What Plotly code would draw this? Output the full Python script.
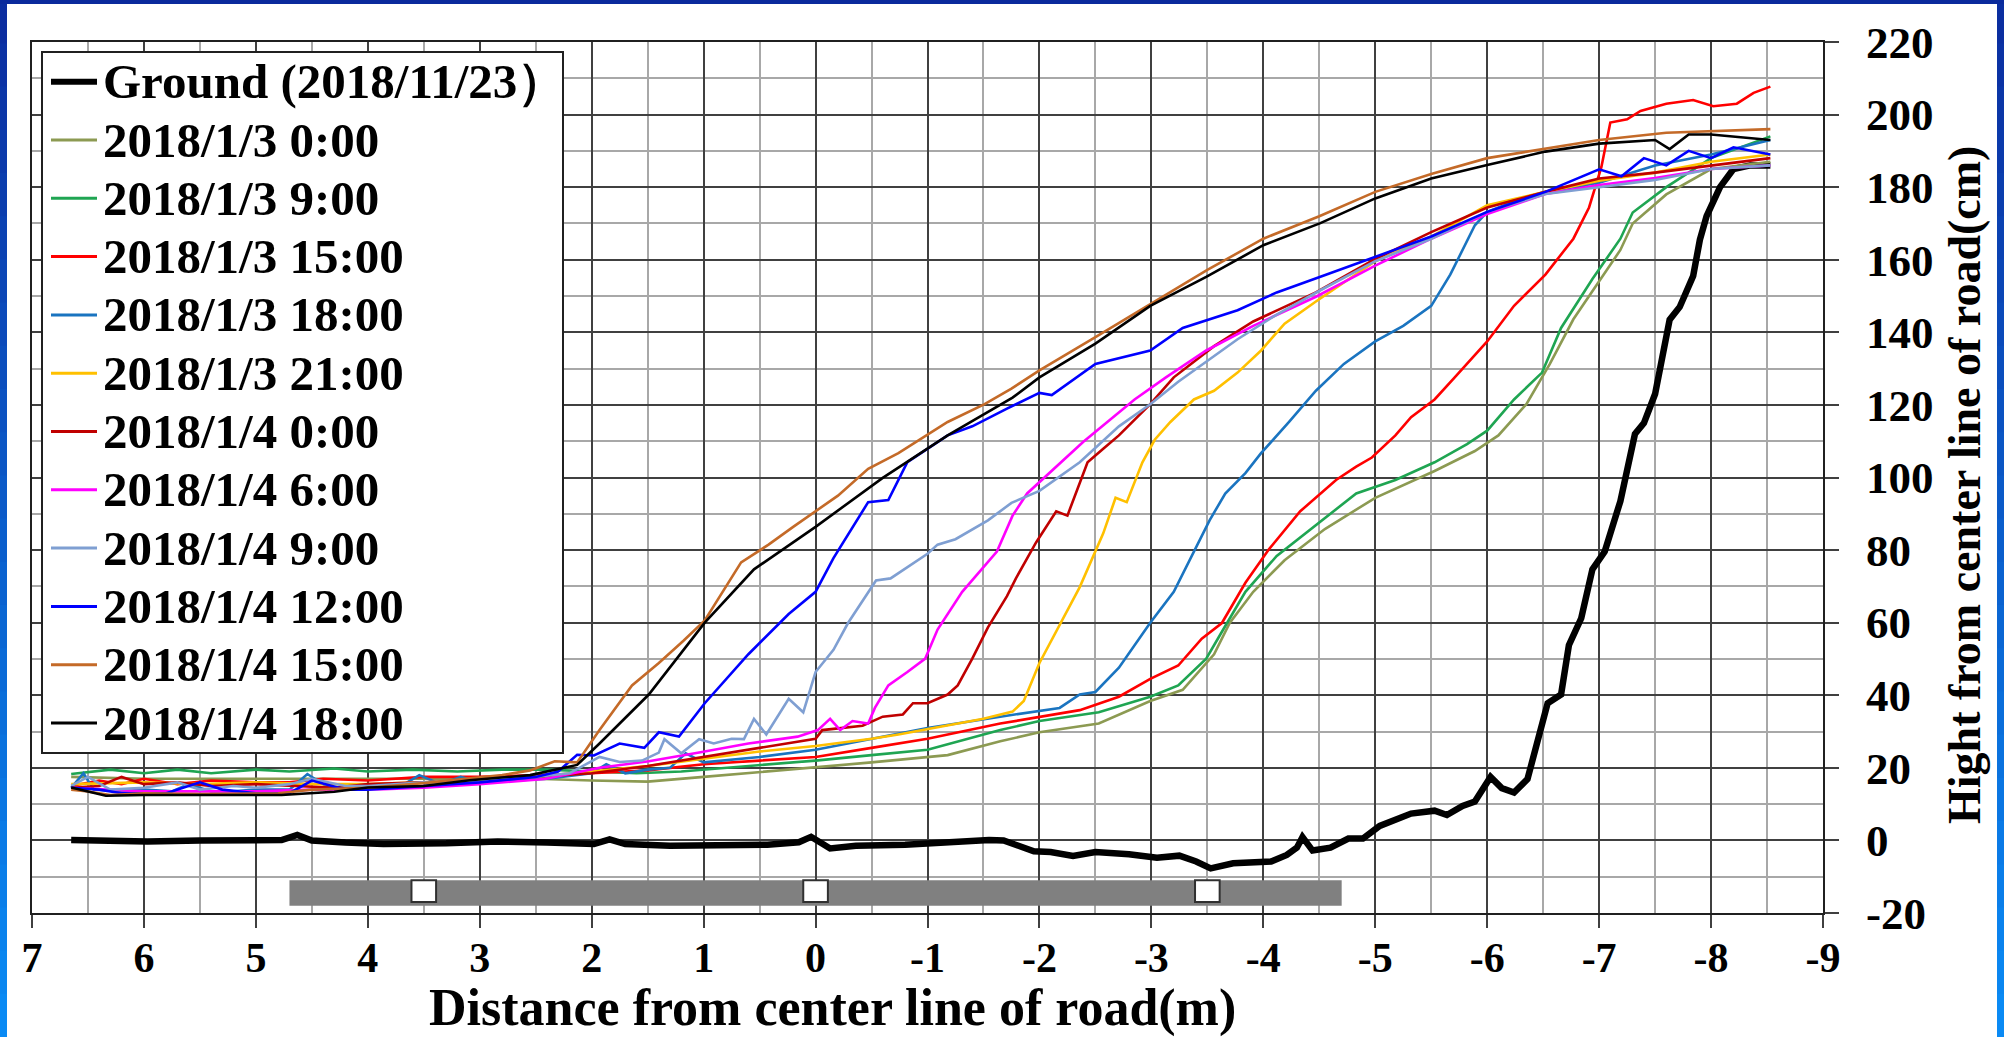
import plotly.graph_objects as go

# ---------------- data ----------------
series_names = [
    "Ground (2018/11/23）", "2018/1/3 0:00", "2018/1/3 9:00", "2018/1/3 15:00",
    "2018/1/3 18:00", "2018/1/3 21:00", "2018/1/4 0:00", "2018/1/4 6:00",
    "2018/1/4 9:00", "2018/1/4 12:00", "2018/1/4 15:00", "2018/1/4 18:00",
]
series_colors = [
    "#000000", "#8c9a52", "#1fa552", "#ff0000", "#1a74c0", "#ffc000",
    "#c00000", "#ff00ff", "#7f9fd2", "#0000ff", "#c46a28", "#000000",
]

ground_x = [6.65, 6.3, 5.97, 5.5, 4.99, 4.77, 4.63, 4.5, 4.2, 3.86, 3.3, 2.84, 2.4, 1.98, 1.84, 1.7, 1.3, 0.9,
            0.43, 0.15, 0.04, -0.13, -0.36, -0.8, -1.27, -1.55, -1.68, -1.8, -1.95, -2.1, -2.3, -2.5, -2.8, -3.05,
            -3.25, -3.4, -3.53, -3.73, -4.07, -4.21, -4.3, -4.35, -4.44, -4.6, -4.76, -4.89, -5.04, -5.32, -5.53,
            -5.64, -5.78, -5.89, -5.96, -6.03, -6.13, -6.24, -6.36, -6.45, -6.54, -6.66, -6.73, -6.84, -6.94,
            -7.05, -7.19, -7.32, -7.4, -7.5, -7.57, -7.63, -7.72, -7.84, -7.9, -7.96, -8.08, -8.2, -8.35, -8.53]
ground_y = [0.1, -0.3, -0.3, 0.0, 0.1, 0.1, 1.5, 0.0, -0.6, -1.0, -0.8, -0.3, -0.6, -1.0, 0.3, -1.0, -1.5, -1.2,
            -1.2, -0.5, 1.0, -2.2, -1.5, -1.2, -0.3, 0.1, 0.0, -1.5, -3.0, -3.2, -4.3, -3.2, -3.8, -4.8,
            -4.2, -5.8, -7.7, -6.3, -5.8, -4.0, -2.0, 0.9, -2.8, -2.0, 0.5, 0.5, 4.0, 7.4, 8.2,
            7.0, 9.5, 10.7, 14.0, 17.5, 14.4, 13.2, 16.9, 26.7, 37.8, 40.2, 53.8, 61.2, 74.7,
            79.6, 93.5, 112.0, 115.0, 123.0, 135.0, 143.5, 147.0, 155.5, 165.5, 172.0, 180.0, 185.0, 186.0, 186.0]

s0300_x = [6.65, 6.0, 5.0, 4.0, 3.0, 2.5, 2.0, 1.5, 1.0, 0.5, 0.0, -0.5, -1.18, -1.65, -2.0, -2.53, -2.99, -3.28,
           -3.56, -3.7, -3.91, -4.19, -4.55, -5.0, -5.53, -5.89, -6.1, -6.35, -6.56, -6.77, -7.19, -7.3, -7.6,
           -8.0, -8.53]
s0300_y = [17.5, 17.0, 17.0, 17.0, 17.0, 17.0, 16.5, 16.2, 17.5, 18.8, 20.0, 21.5, 23.5, 27.3, 29.8, 32.2, 38.4, 41.5,
           51.3, 59.9, 68.5, 77.2, 85.8, 94.4, 101.8, 107.3, 111.6, 120.2, 131.3, 143.6, 162.7, 170.0, 178.0,
           185.0, 187.0]

s0309_x = [6.65, 6.3, 6.0, 5.7, 5.4, 5.0, 4.7, 4.3, 4.0, 3.6, 3.2, 2.8, 2.4, 2.0, 1.6, 1.2, 0.8, 0.4, 0.0, -0.5,
           -1.0, -1.65, -2.0, -2.53, -2.99, -3.24, -3.49, -3.63, -3.84, -4.12, -4.47, -4.83, -5.18, -5.53, -5.82,
           -6.0, -6.24, -6.49, -6.66, -6.94, -7.19, -7.3, -7.6, -8.0, -8.53]
s0309_y = [18.3, 19.5, 18.5, 19.5, 18.5, 19.5, 19.0, 19.8, 19.0, 19.5, 19.0, 19.5, 19.5, 19.0, 18.5, 19.0, 20.0, 21.0,
           22.0, 23.5, 25.0, 30.4, 32.9, 35.3, 39.6, 42.7, 50.1, 57.5, 68.5, 78.4, 87.0, 95.6, 99.3, 104.2, 109.2,
           112.9, 121.5, 128.9, 141.2, 154.7, 165.8, 173.0, 180.0, 188.0, 194.0]

s0315_x = [6.65, 6.4, 6.2, 6.0, 5.7, 5.4, 5.0, 4.7, 4.4, 4.0, 3.5, 3.0, 2.5, 2.0, 1.5, 1.0, 0.5, 0.0, -0.5, -1.0,
           -1.65, -2.36, -2.71, -2.99, -3.24, -3.45, -3.63, -3.84, -4.05, -4.33, -4.65, -4.83, -4.97, -5.18, -5.32,
           -5.53, -5.71, -6.0, -6.24, -6.52, -6.77, -6.91, -7.02, -7.1, -7.25, -7.37, -7.6, -7.84, -8.02, -8.23,
           -8.38, -8.53]
s0315_y = [15.0, 16.5, 15.5, 17.0, 15.5, 16.5, 16.0, 16.0, 17.0, 16.5, 17.5, 17.5, 18.0, 18.5, 19.3, 21.0, 22.0, 23.0,
           25.5, 28.0, 32.2, 35.9, 39.6, 44.5, 48.2, 55.6, 59.9, 71.0, 80.2, 90.7, 99.3, 103.0, 105.5, 111.6, 116.6,
           121.5, 127.6, 137.5, 147.3, 155.9, 165.8, 174.4, 185.5, 197.8, 198.7, 201.0, 203.0, 204.0, 202.3, 203.0,
           206.0, 207.7]

s0318_x = [6.65, 6.54, 6.45, 6.2, 6.0, 5.75, 5.6, 5.4, 5.2, 5.0, 4.7, 4.54, 4.35, 4.0, 3.7, 3.54, 3.35, 3.17, 3.0,
           2.7, 2.4, 2.0, 1.87, 1.7, 1.5, 1.3, 1.16, 1.0, 0.5, 0.0, -0.5, -1.0, -1.65, -2.18, -2.36, -2.5, -2.71,
           -2.99, -3.2, -3.42, -3.52, -3.66, -3.84, -3.98, -4.23, -4.47, -4.72, -5.0, -5.25, -5.5, -5.67, -5.89,
           -6.0, -6.31, -6.52, -7.0, -7.5, -8.0, -8.53]
s0318_y = [14.5, 18.5, 14.0, 13.5, 14.0, 13.5, 15.5, 13.5, 13.5, 14.0, 14.0, 18.3, 14.5, 14.5, 15.0, 18.0, 15.5, 17.5,
           16.0, 16.5, 17.0, 18.5, 21.0, 18.5, 19.5, 20.0, 24.0, 21.5, 23.0, 25.0, 28.0, 31.0, 34.1, 36.5, 40.2, 40.9,
           47.6, 60.0, 68.5, 82.1, 88.2, 95.6, 101.2, 106.7, 115.3, 123.9, 131.3, 137.5, 141.8, 147.3, 155.9, 169.5,
           173.2, 176.9, 178.7, 181.2, 186.0, 189.0, 193.0]

s0321_x = [6.65, 6.0, 5.5, 5.0, 4.5, 4.0, 3.5, 3.0, 2.5, 2.0, 1.5, 1.0, 0.5, 0.0, -0.5, -0.74, -1.18, -1.5, -1.76,
           -1.86, -2.0, -2.36, -2.57, -2.68, -2.78, -2.92, -3.03, -3.17, -3.38, -3.56, -3.77, -3.98, -4.19, -4.47,
           -5.0, -5.5, -6.0, -6.52, -7.0, -7.5, -8.0, -8.53]
s0321_y = [15.5, 16.0, 15.5, 16.0, 15.5, 15.5, 16.0, 16.5, 17.5, 19.0, 20.5, 22.5, 24.5, 26.0, 28.0, 29.2, 31.6, 33.5,
           35.5, 38.4, 48.9, 69.8, 84.6, 94.4, 93.2, 104.2, 110.4, 115.3, 121.5, 123.9, 128.9, 135.0, 142.4, 148.5,
           159.6, 166.4, 175.0, 178.7, 181.8, 184.0, 187.0, 189.0]

s0400_x = [6.65, 6.4, 6.2, 6.0, 5.7, 5.4, 5.0, 4.6, 4.3, 4.0, 3.5, 3.0, 2.5, 2.0, 1.5, 1.0, 0.5, 0.0, -0.06, -0.42,
           -0.6, -0.78, -0.87, -1.0, -1.18, -1.27, -1.4, -1.54, -1.71, -1.79, -1.97, -2.15, -2.25, -2.43, -2.57,
           -2.71, -2.99, -3.2, -3.56, -3.91, -4.47, -5.0, -5.5, -6.0, -6.52, -7.0, -7.5, -8.0, -8.53]
s0400_y = [14.5, 15.0, 17.5, 15.5, 16.0, 15.0, 15.5, 15.0, 14.5, 15.5, 16.0, 16.5, 17.5, 18.5, 20.5, 23.0, 25.5, 28.0,
           30.4, 31.6, 34.1, 34.7, 37.8, 37.8, 40.2, 42.7, 50.1, 58.7, 67.3, 72.2, 82.1, 90.7, 89.5, 104.2, 107.9,
           111.6, 120.2, 127.6, 136.2, 143.0, 151.0, 160.2, 167.6, 174.4, 178.7, 182.4, 184.0, 186.0, 188.0]

s0406_x = [6.65, 6.0, 5.0, 4.5, 3.86, 3.5, 3.0, 2.42, 1.93, 1.49, 1.04, 0.6, 0.16, -0.02, -0.13, -0.22, -0.33, -0.47,
           -0.53, -0.65, -0.82, -0.98, -1.09, -1.31, -1.62, -1.76, -1.89, -2.15, -2.39, -2.85, -3.13, -3.49, -3.91,
           -4.47, -5.0, -5.5, -6.0, -6.52, -7.0, -7.5, -8.0, -8.53]
s0406_y = [14.5, 13.5, 13.5, 14.0, 14.1, 14.5, 15.5, 16.9, 20.0, 21.8, 24.2, 26.7, 28.6, 30.4, 33.5, 30.4, 32.9, 32.2,
           36.5, 42.7, 46.4, 50.1, 58.1, 68.5, 79.6, 89.5, 95.6, 103.0, 109.8, 121.5, 127.6, 135.0, 141.8,
           149.8, 158.4, 165.8, 172.6, 178.1, 180.6, 182.5, 185.0, 186.0]

s0409_x = [6.65, 6.5, 6.3, 6.0, 5.7, 5.5, 5.2, 5.0, 4.7, 4.5, 4.2, 4.0, 3.5, 3.0, 2.5, 2.2, 1.93, 1.75, 1.55, 1.4,
           1.35, 1.2, 1.04, 0.91, 0.75, 0.64, 0.55, 0.44, 0.24, 0.11, 0.0, -0.16, -0.29, -0.54, -0.67, -1.0, -1.09,
           -1.25, -1.54, -1.75, -2.0, -2.36, -2.71, -2.99, -3.24, -3.77, -4.12, -4.51, -5.0, -5.5, -6.0, -6.52,
           -7.0, -7.5, -8.0, -8.53]
s0409_y = [15.0, 17.5, 14.0, 14.5, 16.0, 14.0, 15.0, 14.5, 15.5, 17.0, 15.0, 15.0, 16.0, 16.5, 17.5, 18.5, 23.0, 21.6,
           22.0, 24.2, 27.9, 24.0, 27.9, 26.7, 28.0, 27.9, 33.5, 29.2, 39.0, 35.3, 46.4, 52.5, 59.9, 71.6, 72.2, 79.0,
           81.5, 83.0, 88.2, 93.0, 96.3, 104.2, 114.1, 120.2, 126.4, 138.1, 144.9, 151.6, 159.6, 165.8, 173.2,
           178.1, 180.0, 182.0, 185.0, 186.0]

s0412_x = [6.65, 6.4, 6.2, 5.8, 5.5, 5.3, 5.0, 4.7, 4.5, 4.2, 4.0, 3.5, 3.0, 2.5, 2.3, 2.13, 1.98, 1.75, 1.53, 1.4,
           1.22, 0.99, 0.6, 0.24, 0.0, -0.16, -0.47, -0.65, -0.82, -1.18, -1.4, -1.71, -2.0, -2.11, -2.5, -2.99,
           -3.28, -3.77, -4.12, -4.51, -5.0, -5.5, -6.0, -6.52, -7.0, -7.2, -7.4, -7.6, -7.8, -8.0, -8.2, -8.53]
s0412_y = [14.5, 14.0, 13.0, 13.0, 16.0, 14.0, 13.0, 13.0, 16.5, 14.0, 14.0, 15.0, 16.0, 17.5, 19.0, 23.6, 23.4, 26.7,
           25.5, 29.8, 28.6, 37.8, 51.3, 62.4, 68.5, 77.8, 93.2, 93.8, 104.2, 111.6, 114.1, 119.0, 123.3, 122.7,
           131.3, 135.0, 141.2, 146.1, 151.0, 155.3, 160.9, 166.4, 173.2, 178.7, 184.9, 183.0, 188.0, 186.0, 190.0,
           188.0, 191.0, 189.0]

s0415_x = [6.65, 6.5, 6.3, 6.0, 5.5, 5.0, 4.8, 4.5, 4.0, 3.5, 3.09, 2.8, 2.55, 2.33, 2.13, 1.93, 1.64, 1.4, 1.18,
           0.99, 0.665, 0.42, 0.2, 0.0, -0.2, -0.47, -0.74, -1.18, -1.51, -1.75, -2.0, -2.5, -3.0, -3.5, -4.0,
           -4.5, -5.0, -5.5, -6.0, -6.5, -7.0, -7.6, -8.0, -8.53]
s0415_y = [14.0, 13.5, 12.5, 13.0, 12.8, 13.0, 13.0, 14.0, 14.5, 15.8, 17.2, 18.0, 19.3, 21.8, 21.5, 30.4, 42.7, 48.9,
           55.0, 60.6, 76.6, 81.5, 86.4, 90.7, 95.0, 102.4, 106.7, 115.3, 120.2, 124.5, 129.5, 138.7, 148.0, 157.2,
           165.8, 172.0, 178.7, 183.6, 188.0, 190.4, 193.0, 195.0, 195.5, 196.0]

s0418_x = [6.65, 6.34, 6.0, 5.5, 5.0, 4.77, 4.3, 4.0, 3.5, 3.09, 2.55, 2.13, 1.93, 1.49, 0.99, 0.55, 0.0, -0.6,
           -1.18, -1.76, -2.0, -2.5, -2.99, -3.49, -4.0, -4.51, -5.0, -5.5, -6.0, -6.52, -7.0, -7.5, -7.63, -7.8,
           -8.0, -8.53]
s0418_y = [14.6, 12.3, 12.5, 12.5, 12.5, 12.5, 13.4, 14.6, 15.0, 16.6, 18.0, 20.8, 26.7, 40.2, 60.0, 74.7, 86.4, 99.9,
           111.6, 122.0, 127.6, 136.9, 147.3, 155.3, 164.0, 170.1, 176.9, 182.4, 186.1, 189.8, 192.0, 193.0, 190.5,
           194.5, 194.5, 193.0]

road_bar_x = [4.7, -4.7]
road_bar_y = [-18.0, -11.0]
marker_x = [3.5, 0.0, -3.5]
marker_y = [-17.0, -11.0]
marker_half_width = 0.11

x_tick_vals = [7, 6, 5, 4, 3, 2, 1, 0, -1, -2, -3, -4, -5, -6, -7, -8, -9]
x_tick_text = ["7", "6", "5", "4", "3", "2", "1", "0", "-1", "-2", "-3", "-4", "-5", "-6", "-7", "-8", "-9"]
y_tick_vals = [-20, 0, 20, 40, 60, 80, 100, 120, 140, 160, 180, 200, 220]
y_tick_text = ["-20", "0", "20", "40", "60", "80", "100", "120", "140", "160", "180", "200", "220"]

x_title = "Distance from center line of road(m)"
y_title = "Hight from center line of road(cm)"

all_x = [ground_x, s0300_x, s0309_x, s0315_x, s0318_x, s0321_x, s0400_x, s0406_x, s0409_x, s0412_x, s0415_x, s0418_x]
all_y = [ground_y, s0300_y, s0309_y, s0315_y, s0318_y, s0321_y, s0400_y, s0406_y, s0409_y, s0412_y, s0415_y, s0418_y]

# ---------------- layout geometry (pixels) ----------------
W, H = 2004, 1037
PL, PR, PT, PB = 32, 1823, 42, 913
FONT = "Liberation Serif"


def px(xp):
    return (xp - PL) / (PR - PL)


def py(yp):
    return (PB - yp) / (PB - PT)


fig = go.Figure()

for i, (xs, ys) in enumerate(zip(all_x, all_y)):
    fig.add_trace(go.Scatter(
        x=xs, y=ys, mode="lines", name=series_names[i],
        line=dict(color=series_colors[i], width=6.5 if i == 0 else 2.6),
        showlegend=False,
    ))

shapes = []
# road bar and markers (data coordinates)
shapes.append(dict(type="rect", xref="x", yref="y", x0=road_bar_x[0], x1=road_bar_x[1],
                   y0=road_bar_y[0], y1=road_bar_y[1], fillcolor="#808080", line=dict(width=0),
                   layer="above"))
for mx in marker_x:
    shapes.append(dict(type="rect", xref="x", yref="y", x0=mx + marker_half_width, x1=mx - marker_half_width,
                       y0=marker_y[0], y1=marker_y[1], fillcolor="white",
                       line=dict(color="#303030", width=2), layer="above"))

# legend box
shapes.append(dict(type="rect", xref="paper", yref="paper", x0=px(42), x1=px(563), y0=py(753), y1=py(52),
                   fillcolor="white", line=dict(color="#202020", width=2), layer="above"))
annotations = []
for i, name in enumerate(series_names):
    yrow = 81.7 + i * 58.3
    shapes.append(dict(type="line", xref="paper", yref="paper", x0=px(51), x1=px(97), y0=py(yrow), y1=py(yrow),
                       line=dict(color=series_colors[i], width=6 if i == 0 else 3), layer="above"))
    annotations.append(dict(xref="paper", yref="paper", x=px(101), y=py(yrow), xanchor="left", yanchor="middle",
                            text=name, showarrow=False,
                            font=dict(family=FONT, size=49, color="black", weight="bold")))

# axis titles
annotations.append(dict(xref="paper", yref="paper", x=px(832), y=py(1008), xanchor="center", yanchor="middle",
                        text=x_title, showarrow=False,
                        font=dict(family=FONT, size=52, color="black", weight="bold")))
annotations.append(dict(xref="paper", yref="paper", x=px(1964), y=py(485), xanchor="center", yanchor="middle",
                        text=y_title, textangle=-90, showarrow=False,
                        font=dict(family=FONT, size=46, color="black", weight="bold")))


# blue frame
def lerp(c1, c2, t):
    a = [int(c1[k:k + 2], 16) for k in (1, 3, 5)]
    b = [int(c2[k:k + 2], 16) for k in (1, 3, 5)]
    return "#%02x%02x%02x" % tuple(round(a[j] + (b[j] - a[j]) * t) for j in range(3))


top_col, bot_col = "#0b2c9e", "#0a8cf6"
nseg = 24
for k in range(nseg):
    y0p = H * k / nseg
    y1p = H * (k + 1) / nseg + 1
    col = lerp(top_col, bot_col, (k + 0.5) / nseg)
    for x0p, x1p in ((0, 7), (1997, W + 2)):
        shapes.append(dict(type="rect", xref="paper", yref="paper", x0=px(x0p), x1=px(x1p), y0=py(y1p), y1=py(y0p),
                           fillcolor=col, line=dict(width=0), layer="above"))
shapes.append(dict(type="rect", xref="paper", yref="paper", x0=px(0), x1=px(W + 2), y0=py(4), y1=py(-2),
                   fillcolor="#0a2a9c", line=dict(width=0), layer="above"))

xtickfont = dict(family=FONT, size=42, color="black", weight="bold")
ytickfont = dict(family=FONT, size=45, color="black", weight="bold")

fig.update_layout(
    width=W, height=H,
    margin=dict(l=PL, r=W - PR, t=PT, b=H - PB, pad=0),
    paper_bgcolor="white", plot_bgcolor="white",
    shapes=shapes, annotations=annotations,
    showlegend=False,
    xaxis=dict(
        range=[7, -9], tickmode="array", tickvals=x_tick_vals, ticktext=x_tick_text,
        ticks="outside", ticklen=13, tickwidth=2, tickcolor="#404040",
        showgrid=True, gridcolor="#404040", gridwidth=1.6,
        minor=dict(tickmode="linear", tick0=0, dtick=0.5, showgrid=True, gridcolor="#a8a8a8", gridwidth=1.6,
                   ticks=""),
        showline=True, mirror=True, linecolor="#202020", linewidth=2,
        zeroline=False, tickfont=xtickfont, ticklabelstandoff=-6,
    ),
    yaxis=dict(
        side="right", range=[-20, 220], tickmode="array", tickvals=y_tick_vals, ticktext=y_tick_text,
        ticks="outside", ticklen=14, tickwidth=2, tickcolor="#404040",
        showgrid=True, gridcolor="#404040", gridwidth=1.6,
        minor=dict(tickmode="linear", tick0=0, dtick=10, showgrid=True, gridcolor="#a8a8a8", gridwidth=1.6,
                   ticks=""),
        showline=True, mirror=True, linecolor="#202020", linewidth=2,
        zeroline=False, tickfont=ytickfont, ticklabelstandoff=18,
    ),
)

fig.write_html("out.html")
